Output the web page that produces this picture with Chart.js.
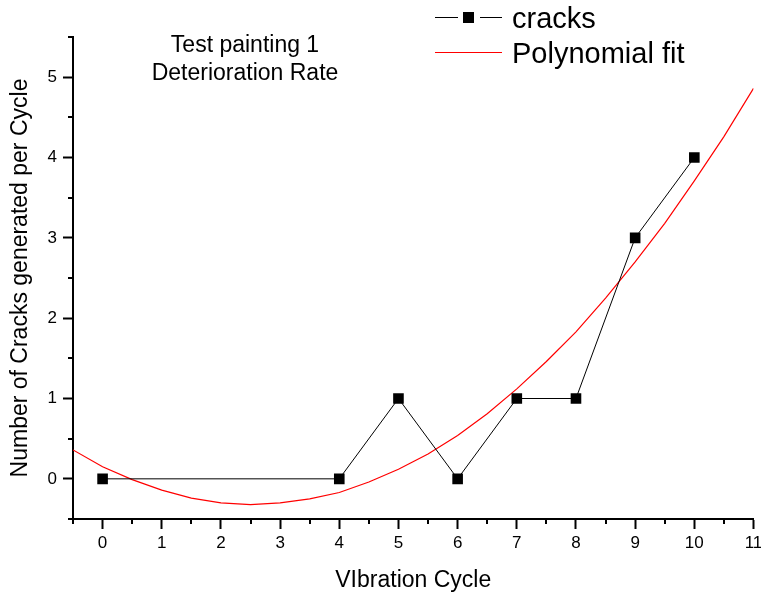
<!DOCTYPE html>
<html><head><meta charset="utf-8">
<script src="https://cdn.jsdelivr.net/npm/chart.js@4"></script>
<style>html,body{margin:0;padding:0;background:#fff}canvas{display:block}</style>
</head><body>
<canvas id="c" width="761" height="595"></canvas>
<script>
// ---- data ----
const cycles = [0, 4, 5, 6, 7, 8, 9, 10];
const cracks = [0, 0, 1, 0, 1, 1, 3, 4];
const fitX = [-0.5, 0, 0.5, 1, 1.5, 2, 2.5, 3, 3.5, 4, 4.5, 5, 5.5, 6, 6.5, 7, 7.5, 8, 8.5, 9, 9.5, 10, 10.5, 11];
const fitY = [0.36, 0.15, -0.01, -0.14, -0.24, -0.30, -0.32, -0.30, -0.25, -0.17, -0.04, 0.12, 0.31, 0.54, 0.81, 1.12, 1.46, 1.83, 2.25, 2.70, 3.18, 3.71, 4.26, 4.86];
const xTicks = [0, 1, 2, 3, 4, 5, 6, 7, 8, 9, 10, 11];
const yTicks = [0, 1, 2, 3, 4, 5];
const xMinor = [-0.5, 0.5, 1.5, 2.5, 3.5, 4.5, 5.5, 6.5, 7.5, 8.5, 9.5, 10.5];
const yMinor = [-0.5, 0.5, 1.5, 2.5, 3.5, 4.5, 5.5];
const titleLines = ['Test painting 1', 'Deterioration Rate'];
const seriesNames = ['cracks', 'Polynomial fit'];
const xTitle = 'VIbration Cycle';
const yTitle = 'Number of Cracks generated per Cycle';

const FONT = "'Liberation Sans', Arial, Helvetica, sans-serif";
Chart.defaults.font.family = FONT;
Chart.defaults.font.size = 17;
Chart.defaults.color = '#000';

const decorPlugin = {
  id: 'decor',
  afterDraw(chart) {
    const ctx = chart.ctx;
    const xs = chart.scales.x, ys = chart.scales.y;
    const ca = chart.chartArea;
    ctx.save();
    // minor ticks
    ctx.strokeStyle = '#000';
    ctx.lineWidth = 2;
    ctx.beginPath();
    xMinor.forEach(v => {
      const p = Math.round(xs.getPixelForValue(v));
      ctx.moveTo(p, ca.bottom); ctx.lineTo(p, ca.bottom + 5);
    });
    yMinor.forEach(v => {
      const p = Math.round(ys.getPixelForValue(v));
      ctx.moveTo(ca.left, p); ctx.lineTo(ca.left - 5, p);
    });
    ctx.stroke();
    // in-plot title
    ctx.fillStyle = '#000';
    ctx.font = '23px ' + FONT;
    ctx.textAlign = 'center';
    ctx.textBaseline = 'alphabetic';
    ctx.fillText(titleLines[0], 245, 52);
    ctx.fillText(titleLines[1], 245, 80);
    // legend
    ctx.font = '29px ' + FONT;
    ctx.textAlign = 'left';
    ctx.lineWidth = 1;
    ctx.strokeStyle = '#000';
    ctx.beginPath();
    ctx.moveTo(435, 17.5); ctx.lineTo(458, 17.5);
    ctx.moveTo(480, 17.5); ctx.lineTo(502, 17.5);
    ctx.stroke();
    ctx.fillRect(463, 12, 11, 11);
    ctx.fillText(seriesNames[0], 512, 28);
    ctx.strokeStyle = '#ff0000';
    ctx.lineWidth = 1.2;
    ctx.beginPath();
    ctx.moveTo(435, 52.5); ctx.lineTo(502, 52.5);
    ctx.stroke();
    ctx.fillText(seriesNames[1], 512, 63);
    ctx.restore();
  }
};

new Chart(document.getElementById('c'), {
  type: 'scatter',
  data: {
    datasets: [
      {
        label: seriesNames[0],
        data: cycles.map((c, i) => ({x: c, y: cracks[i]})),
        showLine: true,
        borderColor: '#000',
        borderWidth: 1,
        pointStyle: 'rect',
        pointRadius: 7.5,
        pointBackgroundColor: '#000',
        pointBorderWidth: 0,
        order: 1
      },
      {
        label: seriesNames[1],
        data: fitX.map((x, i) => ({x: x, y: fitY[i]})),
        showLine: true,
        borderColor: '#ff0000',
        borderWidth: 1.2,
        pointRadius: 0,
        tension: 0,
        order: 2
      }
    ]
  },
  options: {
    responsive: false,
    animation: false,
    events: [],
    layout: { padding: { top: 37, right: 4.5, left: 0, bottom: 0 } },
    plugins: { legend: { display: false }, tooltip: { enabled: false }, title: { display: false } },
    scales: {
      x: {
        type: 'linear',
        min: -0.5, max: 11,
        afterBuildTicks: s => { s.ticks = xTicks.map(v => ({value: v})); },
        afterFit: s => { s.height = 76; s.paddingRight = 0; s.paddingLeft = 0; },
        grid: { drawOnChartArea: false, tickLength: 10, tickWidth: 2, tickColor: '#000' },
        border: { color: '#000', width: 2 },
        ticks: { font: { size: 17 }, padding: 4, maxRotation: 0, autoSkip: false, color: '#000' },
        title: { display: true, text: xTitle, font: { size: 23 }, padding: { top: 0, bottom: 1 }, color: '#000' }
      },
      y: {
        type: 'linear',
        min: -0.5, max: 5.5,
        afterBuildTicks: s => { s.ticks = yTicks.map(v => ({value: v})); },
        afterFit: s => { s.width = 73; s.paddingTop = 0; s.paddingBottom = 0; },
        grid: { drawOnChartArea: false, tickLength: 10, tickWidth: 2, tickColor: '#000' },
        border: { color: '#000', width: 2 },
        ticks: { font: { size: 17 }, padding: 6, autoSkip: false, color: '#000' },
        title: { display: true, text: yTitle, font: { size: 23 }, padding: { top: 7, bottom: 0 }, color: '#000' }
      }
    }
  },
  plugins: [decorPlugin]
});
</script>
</body></html>
